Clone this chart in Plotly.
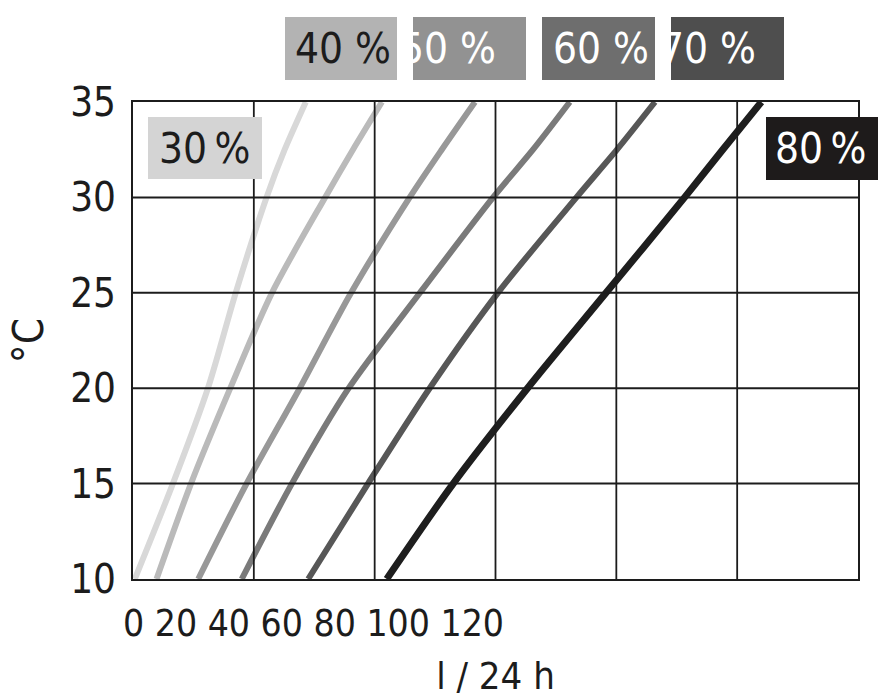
import plotly.graph_objects as go

# -----------------------------
# Datos
# -----------------------------
temp_c = [10, 15, 20, 25, 30, 32.5, 35]

cap_30 = [0.3, 6.6, 12.4, 17.0, 22.1, 25.1, 28.6]
cap_40 = [3.9, 9.6, 16.1, 23.0, 31.8, 36.4, 41.2]
cap_50 = [10.8, 18.8, 27.6, 36.1, 45.8, 51.1, 56.6]
cap_60 = [18.0, 26.3, 35.7, 47.5, 59.6, 66.2, 72.3]
cap_70 = [29.0, 38.9, 49.1, 60.4, 73.4, 80.1, 86.4]
cap_80 = [42.0, 53.0, 65.3, 78.3, 91.3, 97.6, 104.0]

rh_labels = ["30\u2009%", "40 %", "50 %", "60 %", "70 %", "80\u2009%"]

x_tick_labels = ["0", "20", "40", "60", "80", "100", "120"]
x_ticks = [0, 20, 40, 60, 80, 100, 120]
y_ticks = [10, 15, 20, 25, 30, 35]

# -----------------------------
# Estilo
# -----------------------------
FONT = "Liberation Sans Narrow, Arial Narrow, DejaVu Sans Condensed, sans-serif"
INK = "#1c1c1c"
line_colors = ["#d8d8d8", "#bababa", "#989898", "#7a7a7a", "#575757", "#1e1e1e"]
box_colors = ["#d4d4d4", "#b3b3b3", "#929292", "#6e6e6e", "#4e4e4e", "#1e1b1b"]
text_colors = ["#1c1c1c", "#1c1c1c", "white", "white", "white", "white"]

W, H = 885, 698
L, R, T, B = 133, 27, 102, 119
pw, ph = W - L - R, H - T - B


def px_x(v):
    return (v - L) / pw


def px_y(v):
    return (H - B - v) / ph


fig = go.Figure()

series = [cap_30, cap_40, cap_50, cap_60, cap_70, cap_80]
for i, cap in enumerate(series):
    fig.add_trace(go.Scatter(
        x=cap, y=temp_c, mode="lines", name=rh_labels[i],
        line=dict(color=line_colors[i], width=7 if i == 5 else 6, shape="spline", smoothing=0.8),
        cliponaxis=False, hoverinfo="skip",
    ))

# rejilla por encima de las curvas
for xv in x_ticks[1:-1]:
    fig.add_shape(type="line", xref="x", yref="paper", x0=xv, x1=xv, y0=0, y1=1,
                  line=dict(color=INK, width=1.8), layer="above")
for yv in y_ticks[1:-1]:
    fig.add_shape(type="line", xref="paper", yref="y", x0=0, x1=1, y0=yv, y1=yv,
                  line=dict(color=INK, width=2), layer="above")

# cajas de etiquetas (izq, der, arriba, abajo en píxeles) y desplazamiento del texto
boxes = [
    (148, 262, 117, 179, 0),
    (285, 397, 17, 80, 2),
    (413, 526, 17, 80, -22),
    (542, 655, 17, 80, 2),
    (671, 784, 17, 80, -20),
    (766, 878, 117, 180, -1),
]
for i, (x0, x1, y0, y1, dx) in enumerate(boxes):
    fig.add_shape(type="rect", xref="paper", yref="paper",
                  x0=px_x(x0), x1=px_x(x1), y0=px_y(y1), y1=px_y(y0),
                  fillcolor=box_colors[i], line=dict(width=0), layer="above")
    fig.add_annotation(xref="paper", yref="paper",
                       x=px_x((x0 + x1) / 2 + dx), y=px_y((y0 + y1) / 2),
                       text=rh_labels[i], showarrow=False,
                       font=dict(family=FONT, size=42, color=text_colors[i]),
                       xanchor="center", yanchor="middle")

# etiquetas del eje x tal como aparecen (juntas a la izquierda)
fig.add_annotation(xref="paper", yref="paper", x=px_x(121), y=0, yshift=-44,
                   text=" ".join(x_tick_labels), showarrow=False,
                   font=dict(family=FONT, size=37, color=INK),
                   xanchor="left", yanchor="middle")

fig.update_layout(
    width=W, height=H,
    margin=dict(l=L, r=R, t=T, b=B),
    plot_bgcolor="white", paper_bgcolor="white",
    showlegend=False,
    font=dict(family=FONT, size=40, color=INK),
    xaxis=dict(
        range=[0, 120], tickvals=x_ticks, showticklabels=False,
        showgrid=False, zeroline=False, automargin=False,
        showline=True, linecolor=INK, linewidth=2, mirror=True,
        title=dict(text="l / 24 h", standoff=84, font=dict(size=38)),
        fixedrange=True,
    ),
    yaxis=dict(
        range=[10, 35], tickvals=y_ticks, showgrid=False, zeroline=False,
        showline=True, linecolor=INK, linewidth=2, mirror=True, automargin=False,
        ticks="", ticklabelstandoff=7,
        tickfont=dict(size=40),
        title=dict(text="°C", standoff=14, font=dict(size=42)),
        fixedrange=True,
    ),
)

# sin margen del body para que la figura ocupe la ventana exacta
fig.write_html("out.html", config={"displayModeBar": False},
               post_script="document.body.style.margin='0';")
